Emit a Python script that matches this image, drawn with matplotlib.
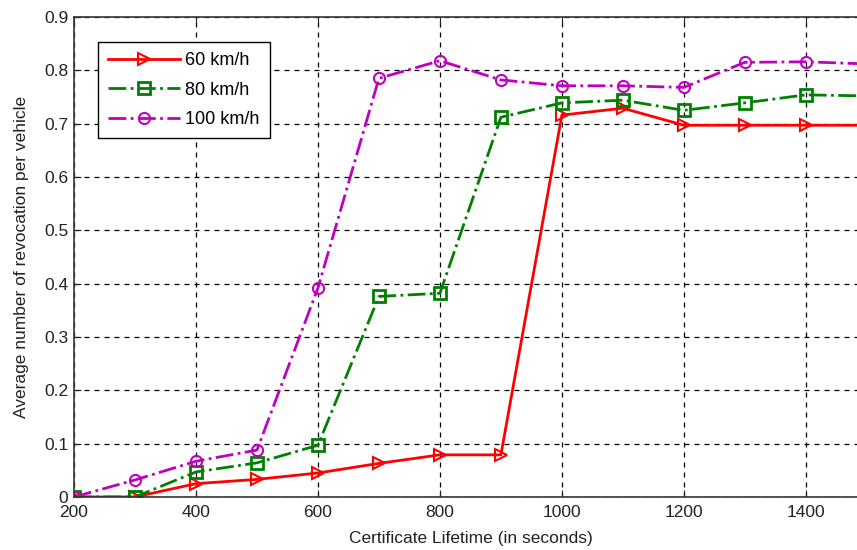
import matplotlib
matplotlib.use('Agg')
import matplotlib.pyplot as plt
import numpy as np

plt.rcParams['font.family'] = ['Liberation Sans', 'DejaVu Sans']

lifetime = [200, 300, 400, 500, 600, 700, 800, 900, 1000, 1100, 1200, 1300, 1400, 1500]
rev_60 = [0, 0, 0.025, 0.033, 0.045, 0.063, 0.079, 0.079, 0.716, 0.729, 0.697, 0.697, 0.697, 0.697]
rev_80 = [0, 0, 0.047, 0.064, 0.097, 0.376, 0.382, 0.712, 0.739, 0.744, 0.725, 0.739, 0.754, 0.752]
rev_100 = [0, 0.032, 0.067, 0.088, 0.392, 0.785, 0.818, 0.782, 0.771, 0.771, 0.768, 0.815, 0.816, 0.812]

fig = plt.figure(figsize=(8.57, 5.5), dpi=100)
ax = fig.add_axes([0.0864, 0.0964, 0.925, 0.8727])

ax.plot(lifetime, rev_60, '->', color='#ff0000', lw=2, ms=8, mfc='none', mew=1.5, label='60 km/h')
ax.plot(lifetime, rev_80, '-.s', color='#008000', lw=2, ms=8, mfc='none', mew=2, label='80 km/h')
ax.plot(lifetime, rev_100, '-.o', color='#bf00bf', lw=2, ms=8, mfc='none', mew=1.5, label='100 km/h')

ax.set_xlim(200, 1500)
ax.set_ylim(0, 0.9)
ax.set_xticks(np.arange(200, 1501, 200))
ax.set_yticks(np.arange(0, 0.91, 0.1))
ax.set_yticklabels(['0', '0.1', '0.2', '0.3', '0.4', '0.5', '0.6', '0.7', '0.8', '0.9'])
ax.grid(True, color='black', linestyle=(0, (4, 4)), linewidth=0.9)
ax.tick_params(direction='in', length=5, labelsize=12.5, colors='#222222', top=True, right=True)
ax.tick_params(axis='x', pad=6)
ax.tick_params(axis='y', pad=4)
for s in ax.spines.values():
    s.set_color('#333333')
    s.set_linewidth(1.2)

ax.set_xlabel('Certificate Lifetime (in seconds)', fontsize=12.5, color='#222222', labelpad=8)
ax.set_ylabel('Average number of revocation per vehicle', fontsize=12.5, color='#222222', labelpad=11)

leg = ax.legend(loc='upper left', bbox_to_anchor=(0.030, 0.948), borderaxespad=0, fontsize=13, handlelength=4.0,
                fancybox=False, edgecolor='black', framealpha=1, borderpad=0.55, labelspacing=0.7,
                handletextpad=0.3)
leg.get_frame().set_linewidth(1.0)

fig.savefig('out.png', dpi=100)
